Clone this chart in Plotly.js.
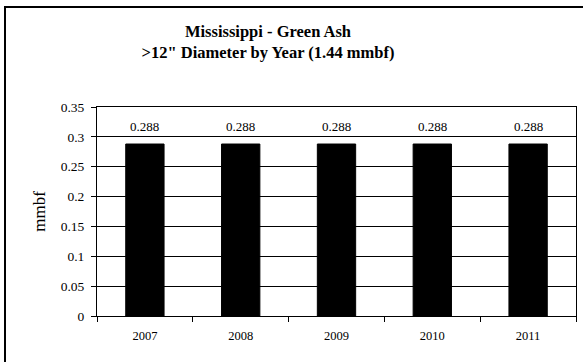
<!DOCTYPE html>
<html>
<head>
<meta charset="utf-8">
<script src="https://cdn.plot.ly/plotly-3.0.1.min.js"></script>
<style>html,body{margin:0;padding:0;background:#fff;}#chart{width:583px;height:362px;}</style>
</head>
<body>
<div id="chart"></div>
<script>
const years = ["2007", "2008", "2009", "2010", "2011"];
const values = [0.288, 0.288, 0.288, 0.288, 0.288];
const labels = ["0.288", "0.288", "0.288", "0.288", "0.288"];

const serif = "Liberation Serif, Times New Roman, serif";

const trace = {
  type: "bar",
  x: years,
  y: values,
  marker: {color: "#000000", line: {color: "#000000", width: 1}},
  hoverinfo: "none"
};

const annotations = years.map((yr, i) => ({
  x: i, y: values[i], xref: "x", yref: "y",
  text: labels[i], showarrow: false,
  yanchor: "bottom", yshift: 8,
  font: {family: serif, size: 13, color: "#000"}
}));

const layout = {
  width: 583, height: 362,
  margin: {l: 97, r: 7, t: 107, b: 46},
  paper_bgcolor: "#fff", plot_bgcolor: "#fff",
  showlegend: false,
  bargap: 0.6,
  title: {
    text: "<b>Mississippi - Green Ash<br>>12\" Diameter by Year (1.44 mmbf)</b>",
    font: {family: serif, size: 16.5, color: "#000"},
    x: 268 / 583, xanchor: "center", xref: "container",
    y: 1 - 37 / 362, yanchor: "middle", yref: "container"
  },
  xaxis: {
    type: "category",
    range: [-0.5, years.length - 0.5], autorange: false,
    showline: true, linecolor: "#000", linewidth: 1, mirror: true,
    ticks: "outside", tickson: "boundaries", ticklen: 5, tickcolor: "#000",
    tickangle: 0, ticklabelstandoff: 8,
    tickfont: {family: serif, size: 12.5, color: "#000"},
    showgrid: false, zeroline: false
  },
  yaxis: {
    range: [0, 0.35], autorange: false, dtick: 0.05, tick0: 0,
    showline: true, linecolor: "#000", linewidth: 1, mirror: true,
    ticks: "outside", ticklen: 5, tickcolor: "#000",
    ticklabelstandoff: 4,
    tickfont: {family: serif, size: 13.5, color: "#000"},
    showgrid: true, gridcolor: "#000", gridwidth: 1,
    zeroline: false,
    title: {text: "mmbf", font: {family: serif, size: 17, color: "#000"}, standoff: 10}
  },
  annotations: annotations,
  shapes: [{
    type: "rect", xref: "paper", yref: "paper",
    x0: (5 - 97) / 479, x1: 1.2, y0: -0.4, y1: (316 - 7) / 209,
    line: {color: "#000", width: 2}, fillcolor: "rgba(0,0,0,0)", layer: "below"
  }]
};

Plotly.newPlot("chart", [trace], layout, {displayModeBar: false, staticPlot: true});
</script>
</body>
</html>
